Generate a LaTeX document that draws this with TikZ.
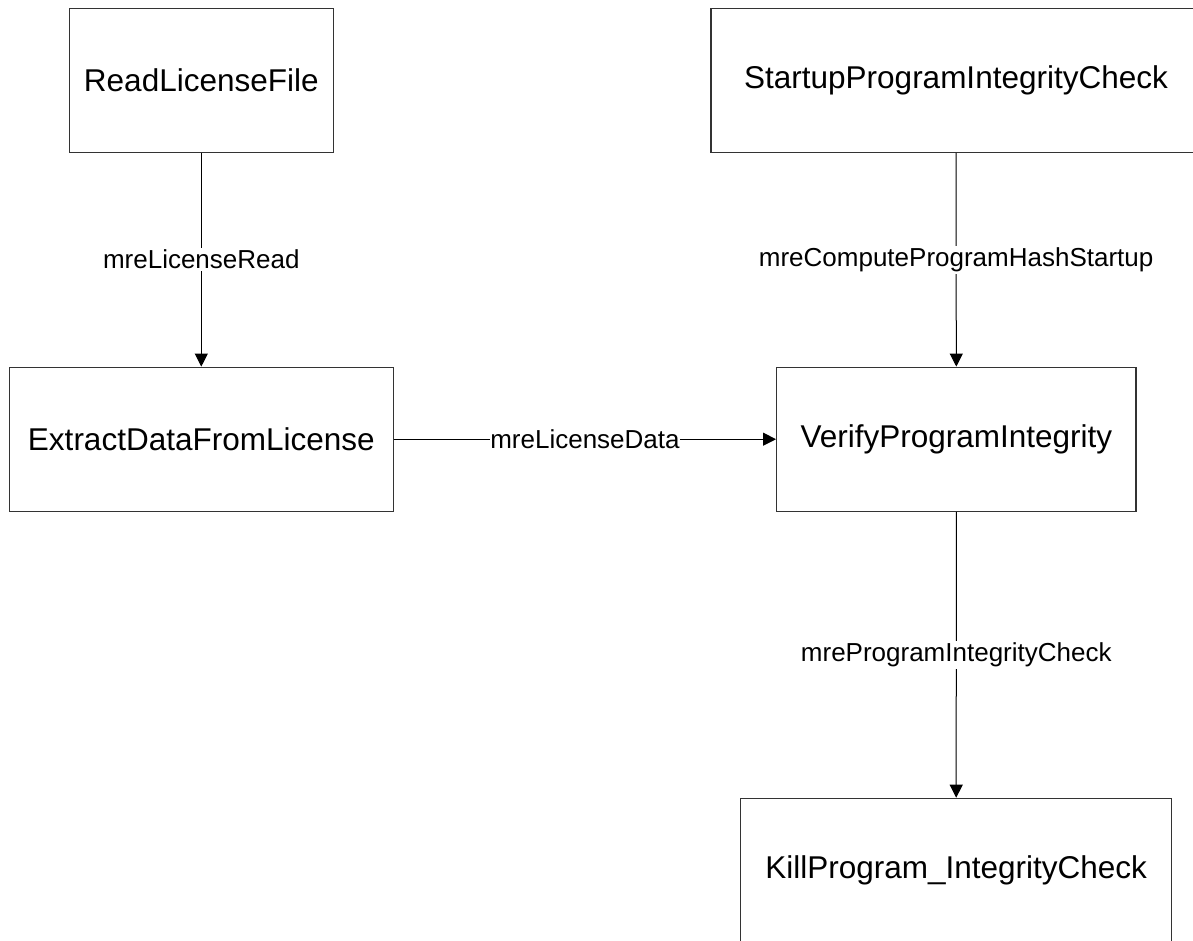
\documentclass[tikz,border=0pt]{standalone}
\usepackage{fontspec}
\setmainfont{Liberation Sans}
\usetikzlibrary{arrows.meta}

\tikzset{
  procbox/.style={draw=black!80, line width=1.2pt, fill=white,
    inner sep=0pt, minimum height=144pt, font=\fontsize{31.5}{36}\selectfont},
  flow/.style={draw=black, line width=1pt, -{Triangle[length=13pt, width=13pt]}},
  flowlabel/.style={fill=white, inner sep=2pt, font=\fontsize{26}{30}\selectfont},
}

\begin{document}
\begin{tikzpicture}[x=1pt, y=-1pt]
  \useasboundingbox (0,0) rectangle (1193,940);
  \clip (0,0) rectangle (1193,940);

  % process boxes
  \node[procbox, minimum width=264pt] (read)    at (201.3,80.2)  {ReadLicenseFile};
  \node[procbox, minimum width=490pt] (startup) at (956,80.2)    {StartupProgramIntegrityCheck};
  \node[procbox, minimum width=384pt] (extract) at (201.3,439.2) {ExtractDataFromLicense};
  \node[procbox, minimum width=359.3pt] (verify) at (956.3,439.2) {VerifyProgramIntegrity};
  \node[procbox, minimum width=431pt] (kill)    at (956.2,870.3) {KillProgram\_IntegrityCheck};

  % data flows
  \draw[flow] (read.south) -- node[flowlabel] {mreLicenseRead} (extract.north);
  \draw[flow] (startup.south) -- node[flowlabel] {mreComputeProgramHashStartup} (verify.north);
  \draw[flow] (extract.east) -- node[flowlabel, inner xsep=0pt] {mreLicenseData} (verify.west);
  \draw[flow] (verify.south) -- node[flowlabel] {mreProgramIntegrityCheck} (kill.north);
\end{tikzpicture}
\end{document}
